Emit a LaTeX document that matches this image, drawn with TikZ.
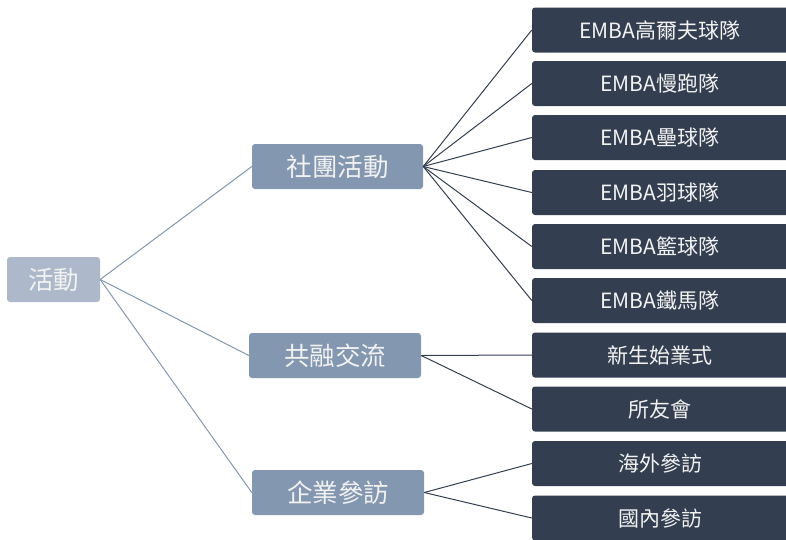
\documentclass[tikz,border=0pt]{standalone}
\usepackage{fontspec}
\setmainfont{Noto Sans CJK TC}
\definecolor{rootc}{HTML}{ADB9CA}
\definecolor{midc}{HTML}{8497B0}
\definecolor{leafc}{HTML}{333F50}
\definecolor{txt}{HTML}{F2F2F2}
\tikzset{
  box/.style={rounded corners=3pt, inner sep=0pt, text=txt},
  rootbox/.style={box, fill=rootc, font=\fontsize{25.5}{28}\selectfont},
  midbox/.style={box, fill=midc, font=\fontsize{25.5}{28}\selectfont},
  leafbox/.style={box, fill=leafc, font=\fontsize{21}{24}\selectfont},
  rline/.style={draw=midc, line width=1pt},
  lline/.style={draw=leafc, line width=1pt},
}
\begin{document}
\begin{tikzpicture}[x=1pt,y=-1pt]
\useasboundingbox (0,0) rectangle (786,539);
\begin{scope}
\clip (0,0) rectangle (786,539);
% root
\node[rootbox, minimum width=93pt, minimum height=45pt] (root) at (53.5,279.5) {活動};
% mid
\node[midbox, minimum width=171pt, minimum height=45pt] (m1) at (337.5,166.5) {社團活動};
\node[midbox, minimum width=172pt, minimum height=45pt] (m2) at (335,355.5) {共融交流};
\node[midbox, minimum width=172pt, minimum height=45pt] (m3) at (338,492.5) {企業參訪};
% leaves
\foreach \n/\y/\t in {l1/30/EMBA高爾夫球隊, l2/83.5/EMBA慢跑隊, l3/137.5/EMBA壘球隊, l4/192.5/EMBA羽球隊, l5/246.5/EMBA籃球隊, l6/300.5/EMBA鐵馬隊, l7/355/新生始業式, l8/409/所友會, l9/463.5/海外參訪, l10/518/國內參訪}{
  \node[leafbox, minimum width=258pt, minimum height=45pt] (\n) at (661,\y) {};
  \node[leafbox, fill=none] at (660,\y) {\t};
}
\end{scope}
% connectors
\foreach \m in {m1,m2,m3} \draw[rline] (root.east) -- (\m.west);
\foreach \l in {l1,l2,l3,l4,l5,l6} \draw[lline] (m1.east) -- (\l.west);
\foreach \l in {l7,l8} \draw[lline] (m2.east) -- (\l.west);
\foreach \l in {l9,l10} \draw[lline] (m3.east) -- (\l.west);
\end{tikzpicture}
\end{document}
